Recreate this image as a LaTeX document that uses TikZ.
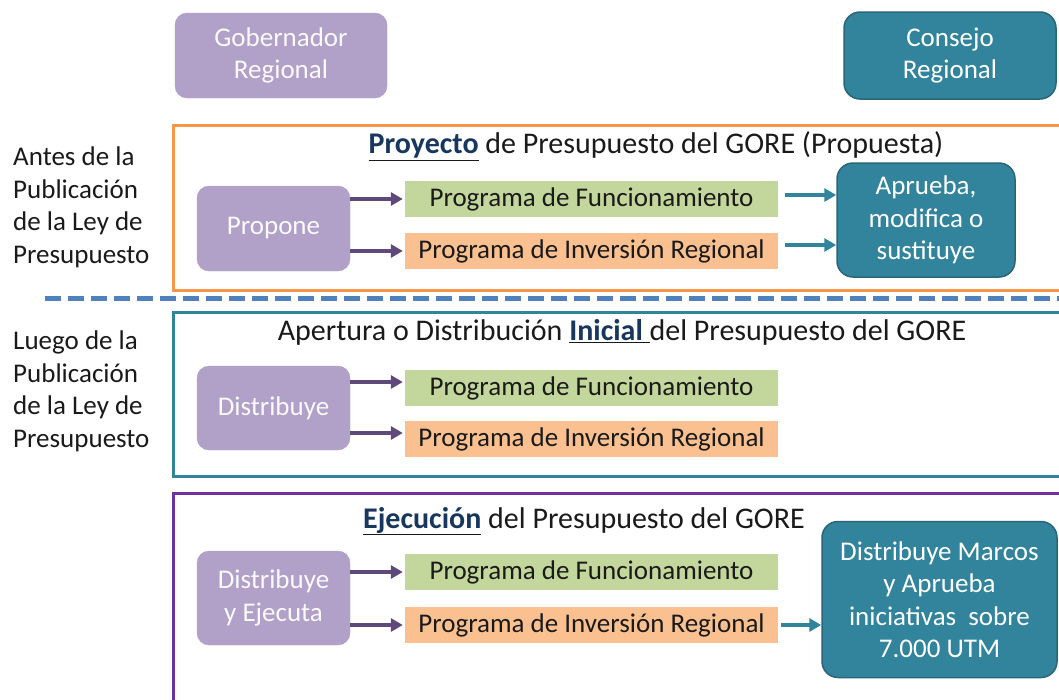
\documentclass[tikz,border=0pt]{standalone}
\usepackage{fontspec}
\setmainfont{Carlito}
\usetikzlibrary{arrows.meta,calc}
\definecolor{lav}{HTML}{B1A0C7}
\definecolor{tealf}{HTML}{31849B}
\definecolor{tealdk}{HTML}{2B6579}
\definecolor{orfr}{HTML}{F79646}
\definecolor{purfr}{HTML}{7030A0}
\definecolor{grn}{HTML}{C3D69B}
\definecolor{org}{HTML}{FAC090}
\definecolor{parrc}{HTML}{5F497A}
\definecolor{dashblue}{HTML}{4F81BD}
\definecolor{txt}{HTML}{1A1A1A}
\definecolor{navy}{HTML}{17375E}
\newcommand{\bigf}{\fontsize{27}{32.5}\selectfont}
\newcommand{\titf}{\fontsize{30}{36}\selectfont}
\newcommand{\ul}[1]{\underline{\textbf{\color{navy}#1}}}
\tikzset{
  lavbox/.style={fill=lav, draw=lav, rounded corners=12pt, text=white!95!lav, align=center, font=\bigf, inner sep=0pt},
  tealbox/.style={fill=tealf, draw=tealdk, line width=1.5pt, rounded corners=16pt, text=white, align=center, font=\bigf, inner sep=0pt},
  progbox/.style={minimum width=373pt, minimum height=36pt, inner sep=0pt, text=txt, font=\bigf},
  sidelbl/.style={anchor=north west, align=left, inner sep=0pt, text=txt, font=\bigf},
  titlelbl/.style={inner sep=0pt, text=txt, font=\titf},
  parrow/.style={draw=parrc, line width=4pt, -{Triangle[length=12pt,width=13pt]}},
  tarrow/.style={draw=tealf, line width=4pt, -{Triangle[length=12pt,width=13pt]}},
  frame/.style={line width=3pt}
}
\begin{document}
\begin{tikzpicture}[x=1pt,y=-1pt]
\clip (0,0) rectangle (1059,699);
\fill[white] (0,0) rectangle (1059,699);

% header boxes
\node[lavbox, minimum width=212pt, minimum height=85pt] (gob) at (281,55.5) {Gobernador\\Regional};
\node[tealbox, minimum width=212pt, minimum height=87pt] (cons) at (950,55.5) {Consejo\\Regional};

% frames
\draw[frame, orfr] (173,125) rectangle (1075,290);
\draw[frame, tealf] (173,312) rectangle (1075,476);
\draw[frame, purfr] (173,493) rectangle (1075,720);

% dashed separator
\coordinate (dl) at (45,298);
\coordinate (dr) at (1065,298);
\draw[dashblue, line width=5pt, dash pattern=on 16pt off 7pt] (dl) -- (dr);

% side labels
\node[sidelbl] (antes) at (13,147) {Antes de la\\Publicación\\de la Ley de\\Presupuesto};
\node[sidelbl] (luego) at (13,331) {Luego de la\\Publicación\\de la Ley de\\Presupuesto};

% section 1
\node[titlelbl] (t1) at (656,146) {\ul{Proyecto} de Presupuesto del GORE (Propuesta)};
\node[lavbox, minimum width=153pt, minimum height=85pt] (propone) at (273.5,228.5) {Propone};
\node[progbox, fill=grn] (pf1) at (591.5,199) {Programa de Funcionamiento};
\node[progbox, fill=org] (pi1) at (591.5,251) {Programa de Inversión Regional};
\node[tealbox, minimum width=178pt, minimum height=114pt] (aprueba) at (926,220) {Aprueba,\\modifica o\\sustituye};
\draw[parrow] (propone.east |- pf1.west) -- ([xshift=-2pt]pf1.west);
\draw[parrow] (propone.east |- pi1.west) -- ([xshift=-2pt]pi1.west);
\draw[tarrow] ($(pf1.east)+(7,-4)$) -- ($(aprueba.west |- pf1.east)+(0,-4)$);
\draw[tarrow] ($(pi1.east)+(7,-6)$) -- ($(aprueba.west |- pi1.east)+(0,-6)$);

% section 2
\node[titlelbl] (t2) at (622,332) {Apertura o Distribución \ul{Inicial\ }del Presupuesto del GORE};
\node[lavbox, minimum width=153pt, minimum height=84pt] (distrib) at (273.5,408) {Distribuye};
\node[progbox, fill=grn] (pf2) at (591.5,388) {Programa de Funcionamiento};
\node[progbox, fill=org] (pi2) at (591.5,439) {Programa de Inversión Regional};
\draw[parrow] ([yshift=6pt]distrib.east |- pf2.west) -- ([xshift=-2pt,yshift=6pt]pf2.west);
\draw[parrow] ([yshift=6pt]distrib.east |- pi2.west) -- ([xshift=-2pt,yshift=6pt]pi2.west);

% section 3
\node[titlelbl] (t3) at (584,521) {\ul{Ejecución} del Presupuesto del GORE};
\node[lavbox, minimum width=153pt, minimum height=94pt] (distej) at (273.5,598) {Distribuye\\y Ejecuta};
\node[progbox, fill=grn] (pf3) at (591.5,572) {Programa de Funcionamiento};
\node[progbox, fill=org] (pi3) at (591.5,625) {Programa de Inversión Regional};
\node[tealbox, minimum width=235pt, minimum height=156pt] (final) at (939.5,599.5) {Distribuye Marcos\\y Aprueba\\iniciativas\ \ sobre\\7.000 UTM};
\draw[parrow] (distej.east |- pf3.west) -- ([xshift=-2pt]pf3.west);
\draw[parrow] (distej.east |- pi3.west) -- ([xshift=-2pt]pi3.west);
\draw[tarrow] ($(pi3.east)+(3,0)$) -- (final.west |- pi3.east);
\end{tikzpicture}
\end{document}
